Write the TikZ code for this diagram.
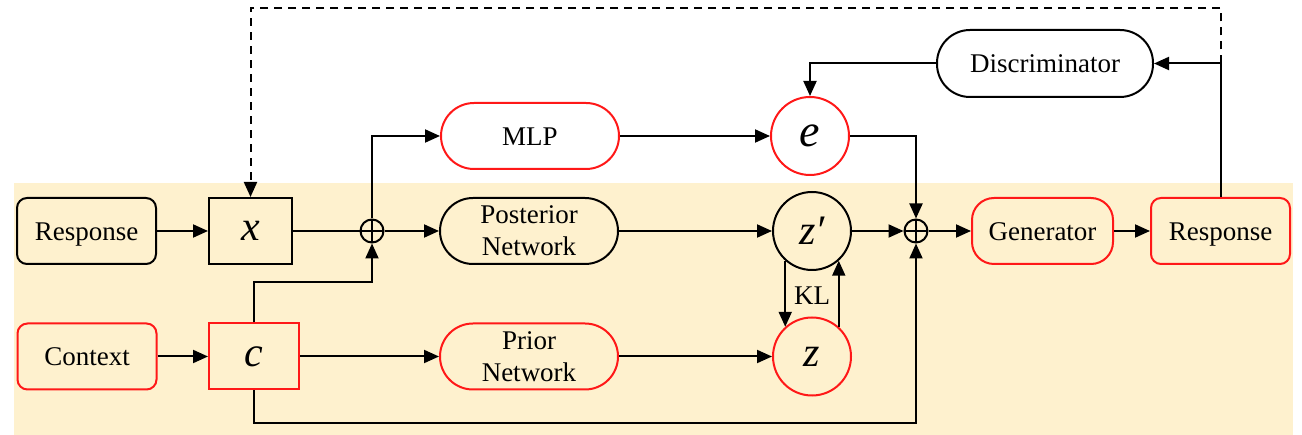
\documentclass[tikz,border=0pt]{standalone}
\usepackage{fontspec}
\setmainfont{Liberation Serif}
\newfontfamily\tms{Liberation Serif}
\usetikzlibrary{arrows.meta}
\definecolor{bgc}{RGB}{254,241,206}
\definecolor{redc}{RGB}{255,24,24}
\begin{document}
\begin{tikzpicture}[x=1pt,y=-1pt, line width=2pt,
 every node/.style={font=\tms\fontsize{27}{32}\selectfont, inner sep=0pt, align=center},
 one/.style={text height=19pt, text depth=0pt},
 box/.style={draw, rounded corners=10pt, minimum width=139pt, minimum height=66pt},
 pill/.style={draw, rounded corners=33pt, minimum width=178pt, minimum height=66pt},
 sq/.style={draw, minimum height=66pt, font=\tms\fontsize{42}{42}\selectfont\itshape},
 var/.style={draw, circle, minimum size=78pt, font=\tms\fontsize{42}{42}\selectfont\itshape},
 sumnode/.style={draw, circle, minimum size=23pt, path picture={\draw[line width=1.6pt] (path picture bounding box.north) -- (path picture bounding box.south) (path picture bounding box.west) -- (path picture bounding box.east);}},
 redline/.style={draw=redc},
 arr/.style={-{Triangle[length=15pt,width=13pt]}},
]
\useasboundingbox (0,0) rectangle (1302,435);
\fill[bgc] (14,183) rectangle (1293,435);

\node[box, one] (resp1) at (86.5,231) {Response};
\node[sq, minimum width=83pt] (xb) at (250.5,231) {x};
\node[box, one, redline] (ctx) at (87,356.5) {Context};
\node[sq, minimum width=90pt, redline] (cb) at (254,356.5) {c};
\node[sumnode] (p1) at (372,231) {};
\node[pill] (post) at (529,231) {Posterior\\Network};
\node[pill, redline] (prior) at (529,356.5) {Prior\\Network};
\node[pill, one, redline] (mlp) at (530,136) {MLP};
\node[var, redline, font=\tms\fontsize{46}{46}\selectfont\itshape] (e) at (810,136) {e};
\node[var] (zp) at (812,231) {z′};
\node[var, redline] (z) at (812,356.5) {z};
\node[sumnode] (p2) at (916,231) {};
\node[box, one, redline, rounded corners=22pt, minimum width=141pt] (gen) at (1042.5,231) {Generator};
\node[box, one, redline] (resp2) at (1220.5,231) {Response};
\node[pill, one, minimum width=216pt, minimum height=67pt] (disc) at (1045,63.5) {Discriminator};
\node[one] (kl) at (812,295) {KL};

\draw[arr] (resp1) -- (xb);
\draw[arr] (ctx) -- (cb);
\draw (xb) -- (p1);
\draw[arr] (p1) -- (post);
\draw[arr] (cb.north) -- ++(0,-40) -| (p1.south);
\draw[arr] (p1.north) |- (mlp.west);
\draw[arr] (mlp) -- (e);
\draw[arr] (post) -- (zp);
\draw[arr] (cb) -- (prior);
\draw[arr] (prior) -- (z);
\draw[arr] (zp) -- (p2);
\draw[arr] (e.east) -| (p2.north);
\draw[arr] (cb.south) -- ++(0,33) -| (p2.south);
\draw[arr] (p2) -- (gen);
\draw[arr] (gen) -- (resp2);
\draw[arr] (resp2.north) |- (disc.east);
\draw[arr, dash pattern=on 8pt off 6pt] (resp2.north |- disc.east) -- ++(0,-55.5) -| (xb.north);
\draw[arr] (disc.west) -| (e.north);
\draw[arr] (zp.228) -- (z.132);
\draw[arr] (z.48) -- (zp.312);
\end{tikzpicture}
\end{document}
